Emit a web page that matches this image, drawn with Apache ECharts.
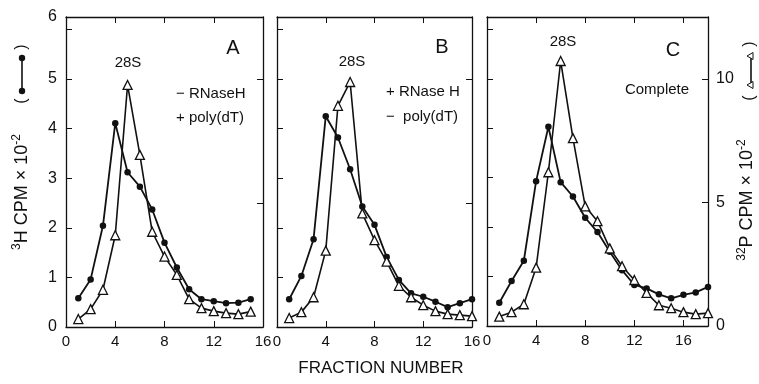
<!DOCTYPE html>
<html>
<head>
<meta charset="utf-8">
<script src="https://cdn.jsdelivr.net/npm/echarts@6/dist/echarts.min.js"></script>
<style>
  html, body { margin: 0; padding: 0; background: #fff; }
  #chart { width: 759px; height: 384px; }
</style>
</head>
<body>
<div id="chart"></div>
<script>
// fraction numbers per panel
const fractionsA = [1, 2, 3, 4, 5, 6, 7, 8, 9, 10, 11, 12, 13, 14, 15];
const fractionsB = [1, 2, 3, 4, 5, 6, 7, 8, 9, 10, 11, 12, 13, 14, 15, 16];
const fractionsC = [1, 2, 3, 4, 5, 6, 7, 8, 9, 10, 11, 12, 13, 14, 15, 16, 17, 18];

// 3H CPM x 10^-2 (filled circles, left axis)
const h3A = [0.58, 0.96, 2.04, 4.11, 3.12, 2.83, 2.37, 1.70, 1.20, 0.76, 0.56, 0.52, 0.48, 0.49, 0.56];
const h3B = [0.56, 1.03, 1.77, 4.25, 3.82, 3.18, 2.43, 2.06, 1.41, 0.95, 0.68, 0.61, 0.51, 0.40, 0.48, 0.56];
const h3C = [0.47, 0.91, 1.32, 2.93, 4.03, 2.91, 2.62, 2.19, 1.90, 1.50, 1.13, 0.83, 0.76, 0.64, 0.56, 0.63, 0.68, 0.79];

// 32P CPM x 10^-2 (open triangles, right axis)
const p32A = [0.32, 0.72, 1.50, 3.70, 9.76, 6.94, 3.84, 2.84, 2.10, 1.12, 0.76, 0.64, 0.56, 0.52, 0.62];
const p32B = [0.36, 0.60, 1.20, 3.08, 8.92, 9.88, 4.58, 3.50, 2.64, 1.66, 1.20, 0.88, 0.64, 0.52, 0.48, 0.44];
const p32C = [0.38, 0.56, 0.88, 2.36, 6.22, 10.72, 7.60, 4.84, 4.24, 3.14, 2.42, 1.86, 1.34, 0.84, 0.72, 0.56, 0.48, 0.52];

// tick labels
const xTickLabels = [0, 4, 8, 12, 16];
const h3TickLabels = [0, 1, 2, 3, 4, 5, 6];
const p32TickLabels = [0, 5, 10];

const panelLetters = ['A', 'B', 'C'];
const panelNotes = [['− RNaseH', '+ poly(dT)'], ['+ RNase H', '−  poly(dT)'], ['Complete']];

const FONT = '"Liberation Sans", Arial, sans-serif';
const INK = '#111';

const fractions = [fractionsA, fractionsB, fractionsC];
const h3 = [h3A, h3B, h3C];
const p32 = [p32A, p32B, p32C];
const xMax = [16, 16, 18];
const H3_MAX = 6.25;
const P32_MAX = 12.5;

const grids = [
  { left: 66, top: 17, width: 197, height: 310 },
  { left: 277, top: 17, width: 195, height: 310 },
  { left: 487, top: 17, width: 221, height: 309 },
];

const frameLine = { color: INK, width: 1.3 };
const xAxis = [];
const yAxis = [];
const series = [];

grids.forEach((g, i) => {
  const xBase = {
    gridIndex: i, type: 'value', min: 0, max: xMax[i], interval: 4,
    axisLine: { onZero: false, lineStyle: frameLine },
    axisTick: { inside: true, length: 6, lineStyle: { color: INK, width: 1 } },
    splitLine: { show: false },
  };
  xAxis.push(Object.assign({}, xBase, {
    position: 'bottom',
    axisLabel: {
      color: INK, fontSize: 15, fontFamily: FONT, margin: 7,
      formatter: v => (xTickLabels.includes(v) ? String(v) : ''),
    },
  }));
  xAxis.push(Object.assign({}, xBase, { position: 'top', axisLabel: { show: false } }));

  yAxis.push({
    gridIndex: i, type: 'value', position: 'left', min: 0, max: H3_MAX, interval: 1,
    axisLine: { onZero: false, lineStyle: frameLine },
    axisTick: { inside: true, length: 6, lineStyle: { color: INK, width: 1 } },
    splitLine: { show: false },
    axisLabel: {
      show: i === 0, color: INK, fontSize: 16, fontFamily: FONT, margin: 9,
      // the drawn frame top carries the "6"
      formatter: v => (v > 6 ? '6' : (v < 6 && h3TickLabels.includes(v) ? String(v) : '')),
    },
  });
  yAxis.push({
    gridIndex: i, type: 'value', position: 'right', min: 0, max: P32_MAX, interval: 5,
    axisLine: { onZero: false, lineStyle: frameLine },
    axisTick: { inside: true, length: 6, lineStyle: { color: INK, width: 1 } },
    splitLine: { show: false },
    axisLabel: {
      show: i === 2, color: INK, fontSize: 16, fontFamily: FONT, margin: 8,
      formatter: v => (p32TickLabels.includes(v) ? String(v) : ''),
    },
  });

  series.push({
    name: '3H ' + panelLetters[i], type: 'line',
    xAxisIndex: i * 2, yAxisIndex: i * 2,
    data: fractions[i].map((f, k) => [f, h3[i][k]]),
    symbol: 'circle', symbolSize: 6.5,
    lineStyle: { color: INK, width: 1.8 },
    itemStyle: { color: INK },
    z: 3,
  });
  series.push({
    name: '32P ' + panelLetters[i], type: 'line',
    xAxisIndex: i * 2, yAxisIndex: i * 2 + 1,
    data: fractions[i].map((f, k) => [f, p32[i][k]]),
    symbol: 'triangle', symbolSize: 9,
    lineStyle: { color: INK, width: 1.6 },
    itemStyle: { color: '#fff', borderColor: INK, borderWidth: 1.3 },
    z: 4,
  });
});

const txt = (x, y, text, size, extra) => ({
  type: 'text', x, y, z: 10,
  style: Object.assign({ text, fill: INK, fontSize: size, fontFamily: FONT, align: 'center', verticalAlign: 'middle' }, extra || {}),
});

const graphic = [
  // peak labels
  txt(128, 63, '28S', 15), txt(352, 62, '28S', 15), txt(563, 42, '28S', 15),
  // panel letters
  txt(233, 48, panelLetters[0], 20), txt(442, 47, panelLetters[1], 20), txt(673, 50, panelLetters[2], 20),
  // conditions
  txt(176, 94, panelNotes[0][0], 15, { align: 'left' }),
  txt(176, 118, panelNotes[0][1], 15, { align: 'left' }),
  txt(386, 92, panelNotes[1][0], 15, { align: 'left' }),
  txt(386, 117, panelNotes[1][1], 15, { align: 'left' }),
  txt(657, 90, panelNotes[2][0], 15),
  // x axis title
  txt(381, 368, 'FRACTION NUMBER', 17),
  // left axis title
  {
    type: 'text', x: 21, y: 192, rotation: Math.PI / 2, z: 10,
    style: {
      text: '{s|3}{n|H CPM × 10}{s|-2}', align: 'center', verticalAlign: 'middle', fill: INK,
      rich: {
        n: { fontSize: 18, fontFamily: FONT, lineHeight: 21, verticalAlign: 'bottom', fill: INK },
        s: { fontSize: 12, fontFamily: FONT, lineHeight: 21, verticalAlign: 'top', fill: INK },
      },
    },
  },
  // right axis title
  {
    type: 'text', x: 746, y: 200, rotation: Math.PI / 2, z: 10,
    style: {
      text: '{s|32}{n|P CPM × 10}{s|-2}', align: 'center', verticalAlign: 'middle', fill: INK,
      rich: {
        n: { fontSize: 18, fontFamily: FONT, lineHeight: 21, verticalAlign: 'bottom', fill: INK },
        s: { fontSize: 12, fontFamily: FONT, lineHeight: 21, verticalAlign: 'top', fill: INK },
      },
    },
  },
  // left key: ( •—• )
  { type: 'line', z: 10, shape: { x1: 22, y1: 58, x2: 22, y2: 91 }, style: { stroke: INK, lineWidth: 1.6 } },
  { type: 'circle', z: 10, shape: { cx: 22, cy: 58, r: 3.2 }, style: { fill: INK } },
  { type: 'circle', z: 10, shape: { cx: 22, cy: 91, r: 3.2 }, style: { fill: INK } },
  Object.assign(txt(22, 101, '(', 16), { rotation: Math.PI / 2 }),
  Object.assign(txt(22, 47, ')', 16), { rotation: Math.PI / 2 }),
  // right key: ( ▵—▵ )
  { type: 'line', z: 10, shape: { x1: 751, y1: 56, x2: 751, y2: 85 }, style: { stroke: INK, lineWidth: 1.6 } },
  { type: 'polygon', z: 11, shape: { points: [[747, 56], [753, 52.5], [753, 59.5]] }, style: { fill: '#fff', stroke: INK, lineWidth: 1 } },
  { type: 'polygon', z: 11, shape: { points: [[747, 85], [753, 81.5], [753, 88.5]] }, style: { fill: '#fff', stroke: INK, lineWidth: 1 } },
  Object.assign(txt(750, 98, '(', 16), { rotation: Math.PI / 2 }),
  Object.assign(txt(750, 44, ')', 16), { rotation: Math.PI / 2 }),
];

const chart = echarts.init(document.getElementById('chart'));
chart.setOption({
  animation: false,
  backgroundColor: '#fff',
  grid: grids,
  xAxis,
  yAxis,
  series,
  graphic,
});
</script>
</body>
</html>
